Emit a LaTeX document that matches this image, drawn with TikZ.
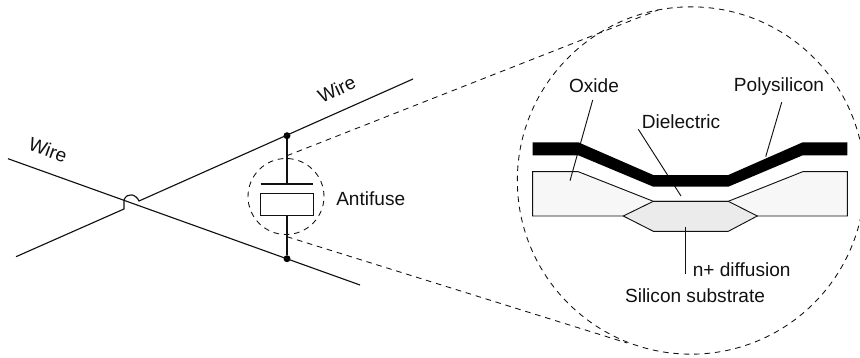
\documentclass[tikz,border=0pt]{standalone}
\usepackage{fontspec}
\setmainfont{Liberation Sans}
\definecolor{ink}{HTML}{111111}
\tikzset{
  wire/.style={draw=ink,line width=0.85pt},
  thin line/.style={draw=ink,line width=0.7pt},
  guide/.style={draw=ink,line width=0.65pt,dash pattern=on 4.2pt off 3.6pt},
  joint/.style={circle,fill=black,inner sep=0pt,minimum size=5.2pt},
  lbl/.style={font=\fontsize{14.3pt}{16pt}\selectfont,text=ink,inner sep=0pt},
}
\begin{document}
\begin{tikzpicture}[x=0.75pt,y=-0.75pt]
\clip (0,0) rectangle (860,357);
\useasboundingbox (0,0) rectangle (860,357);
% wires
\coordinate (w1a) at (8,158.7);
\coordinate (w1b) at (360,285);
\coordinate (w2a) at (413,79);
\coordinate (w2b) at (139,201);
\coordinate (w2c) at (124,200);
\coordinate (w2d) at (124,209);
\coordinate (w2e) at (16,256.7);
\node[joint] (jt) at (287,135.7) {};
\node[joint] (jb) at (287,258.7) {};
\draw[wire] (w1a) -- (w1b);
\draw[wire] (w2a) -- (w2b) .. controls (136,194) and (127,192) .. (w2c) -- (w2d) -- (w2e);
% antifuse
\coordinate (pl) at (260.7,184);
\coordinate (pr) at (313.3,184);
\coordinate (pm) at (287,184);
\node[wire,draw,minimum width=39.5pt,minimum height=16.3pt,inner sep=0pt] (fuse) at (287,204.2) {};
\draw[wire] (jt) -- (pm);
\draw[wire] (pl) -- (pr);
\draw[wire] (fuse.south) -- (jb);
% zoom guides
\node[guide,draw,circle,minimum size=57pt,inner sep=0pt] (small) at (286,196.5) {};
\node[guide,draw,circle,minimum size=260.5pt,inner sep=0pt] (big) at (691,180.5) {};
\coordinate (gt1) at (287,155.7);
\coordinate (gt2) at (658,10);
\coordinate (gb1) at (287,236.7);
\coordinate (gb2) at (627,343);
\draw[guide] (gt1) -- (gt2);
\draw[guide] (gb1) -- (gb2);
% cross-section
\draw[thin line,fill=black!3] (532.7,171.7) -- (578.3,171.7) -- (653.3,201.3) -- (728.3,201.3) -- (802.7,171.7) -- (847.3,171.7) -- (847.3,216) -- (532.7,216) -- cycle;
\draw[thin line,fill=black!8] (623.3,216) -- (653.3,201.3) -- (728.3,201.3) -- (757.3,216) -- (728.3,231.3) -- (653.3,231.3) -- cycle;
% leaders
\coordinate (lo1) at (592.7,100);
\coordinate (lo2) at (570,180.7);
\coordinate (lp1) at (781.7,102.3);
\coordinate (lp2) at (765.7,156.7);
\coordinate (ld1) at (638.3,129.3);
\coordinate (ld2) at (681,196);
\coordinate (ln1) at (685.3,226.7);
\coordinate (ln2) at (685.3,274);
\draw[thin line] (lo1) -- (lo2);
\draw[thin line] (lp1) -- (lp2);
\draw[thin line] (ld1) -- (ld2);
\draw[thin line] (ln1) -- (ln2);
% polysilicon
\fill[black] (532.7,142.3) -- (578.3,142.3) -- (653.3,175) -- (728.3,175) -- (802.7,142.3) -- (847.3,142.3) -- (847.3,155.3) -- (802.7,155.3) -- (728.3,186.7) -- (653.3,186.7) -- (578.3,155.3) -- (532.7,155.3) -- cycle;
% labels
\node[lbl,rotate=-20] (wl) at (48,150) {Wire};
\node[lbl,rotate=25] (wr) at (336.7,89.3) {Wire};
\node[lbl] (af) at (370.7,198.3) {Antifuse};
\node[lbl] (ox) at (594,86) {Oxide};
\node[lbl] (po) at (779,86.7) {Polysilicon};
\node[lbl] (di) at (681,121.7) {Dielectric};
\node[lbl] (nd) at (741.7,269.3) {n+ diffusion};
\node[lbl] (ss) at (695,296) {Silicon substrate};
\end{tikzpicture}
\end{document}
